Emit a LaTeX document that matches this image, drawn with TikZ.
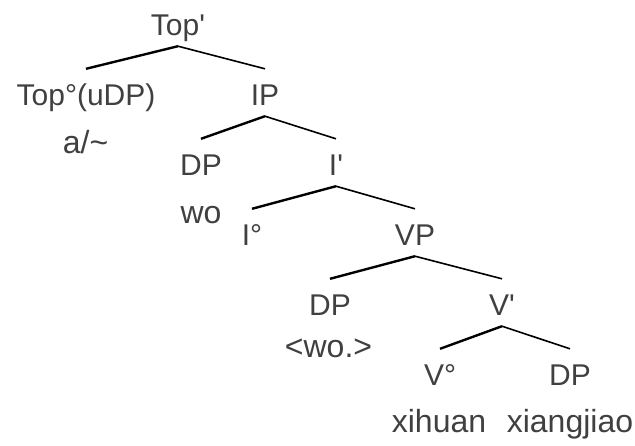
\documentclass[tikz,border=0pt]{standalone}
\usepackage{fontspec}
\setmainfont{Liberation Sans}
\definecolor{txtgray}{RGB}{64,64,64}
\begin{document}
\begin{tikzpicture}[x=1pt,y=-1pt,
    lbl/.style={anchor=base, inner sep=0pt, text height=36pt, text depth=11pt,
      text=txtgray, font=\fontsize{30}{36}\selectfont},
    word/.style={anchor=base, inner sep=0pt, text=txtgray, font=\fontsize{32}{38}\selectfont},
    lbr/.style={line width=2.4pt},
    rbr/.style={line width=1.6pt}]
    \useasboundingbox (0,0) rectangle (635,445);

    % Category labels
    \node[lbl] (tbar)    at (178,35)  {Top\textquotesingle};
    \node[lbl] (thead)   at (86,105)  {Top°(uDP)};
    \node[lbl] (ip)      at (265,105) {IP};
    \node[lbl] (dpsubj)  at (201,175) {DP};
    \node[lbl] (ibar)    at (336,175) {I\textquotesingle};
    \node[lbl] (ihead)   at (252,245) {I°};
    \node[lbl] (vp)      at (415,245) {VP};
    \node[lbl] (dptrace) at (330,315) {DP};
    \node[lbl] (vbar)    at (502,315) {V\textquotesingle};
    \node[lbl] (vhead)   at (440,385) {V°};
    \node[lbl] (dpobj)   at (570,385) {DP};

    % Words
    \node[word] (wa)     at (85.5,153) {a/\textasciitilde};
    \node[word] (wwo)    at (201,223)  {wo};
    \node[word] (wtrace) at (328.5,357) {<wo.>};
    \node[word] (wxh)    at (439,432)  {xihuan};
    \node[word] (wxj)    at (570,432)  {xiangjiao};

    % Branches
    \draw[lbr] (tbar.south) -- (thead.north);
    \draw[rbr] (tbar.south) -- (ip.north);
    \draw[lbr] (ip.south) -- (dpsubj.north);
    \draw[rbr] (ip.south) -- (ibar.north);
    \draw[lbr] (ibar.south) -- (ihead.north);
    \draw[rbr] (ibar.south) -- (vp.north);
    \draw[lbr] (vp.south) -- (dptrace.north);
    \draw[rbr] (vp.south) -- (vbar.north);
    \draw[lbr] (vbar.south) -- (vhead.north);
    \draw[rbr] (vbar.south) -- (dpobj.north);
\end{tikzpicture}
\end{document}
